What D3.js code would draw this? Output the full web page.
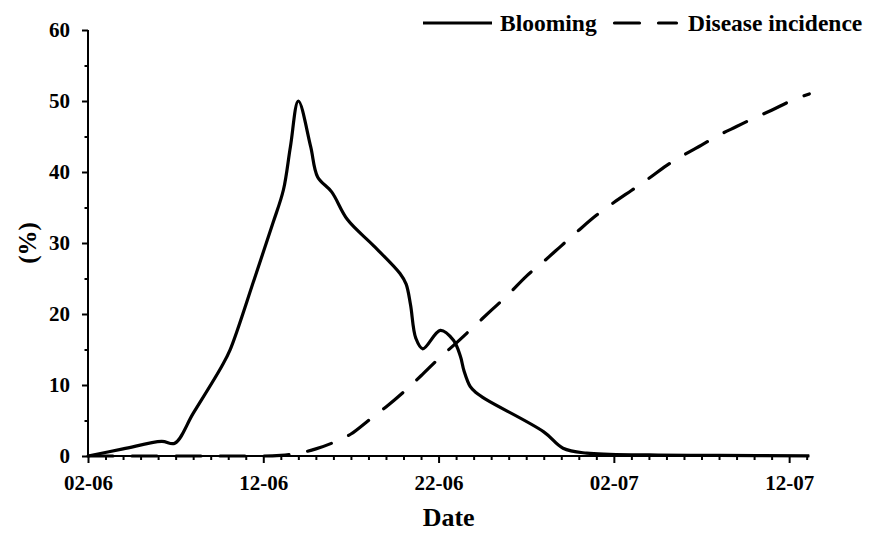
<!DOCTYPE html>
<html>
<head>
<meta charset="utf-8">
<script src="https://cdn.jsdelivr.net/npm/d3@7"></script>
<style>
  html, body { margin: 0; padding: 0; background: #fff; }
  svg text { font-family: "Liberation Serif", "Times New Roman", serif; font-weight: bold; fill: #000; }
</style>
</head>
<body>
<svg id="chart" width="875" height="535"></svg>
<script>
// Day offsets counted from 02-06
const bloomDays = [0, 2, 4.2, 4.95, 6, 7.6, 8.1, 9.5, 10.55, 11.15, 11.55, 12.0, 12.7, 13.1, 13.9, 14.8, 16.3, 17.8, 18.15, 18.4, 18.7, 19.1, 20.1, 20.85, 21.25, 21.45, 21.8, 22.15, 22.75, 26.0, 27.1, 28.45, 32, 36, 41.15];
const bloomValues = [0, 1.0, 2.05, 1.8, 6.0, 12.5, 14.9, 25.0, 32.8, 37.5, 43.6, 50.0, 43.6, 39.3, 37.2, 33.3, 29.6, 25.7, 24.2, 21.3, 16.6, 15.1, 17.7, 16.3, 14.0, 12.0, 9.8, 8.9, 7.9, 3.4, 1.1, 0.4, 0.15, 0.08, 0.03];

const diseaseDays = [0, 5, 10, 11, 12, 13, 14, 15, 16, 17, 18, 19, 20, 21, 22, 23, 24, 25, 26, 27, 28, 29, 30, 31, 32, 33, 34, 35, 36, 37, 38, 39, 40, 41.15];
const diseaseValues = [0, 0, 0, 0.1, 0.4, 1.0, 1.9, 3.1, 5.0, 6.9, 9.0, 11.3, 13.7, 15.9, 18.2, 20.5, 22.8, 25.3, 27.4, 29.6, 31.8, 33.9, 35.7, 37.4, 39.1, 40.9, 42.4, 43.8, 45.2, 46.4, 47.6, 48.7, 49.9, 51.0];

const xTickDays = [0, 10, 20, 30, 40];
const xTickLabels = ["02-06", "12-06", "22-06", "02-07", "12-07"];
const yMajorTicks = [0, 10, 20, 30, 40, 50, 60];

const seriesNames = ["Blooming", "Disease incidence"];

const svg = d3.select("#chart");

const x = d3.scaleLinear().domain([0, 41.15]).range([88, 809.3]);
const y = d3.scaleLinear().domain([0, 60]).range([456, 30]);

// Y axis: labelled majors every 10, short minors in between
const yAxis = svg.append("g")
  .attr("transform", `translate(${x(0)},0)`)
  .call(d3.axisLeft(y)
    .tickValues(d3.range(0, 61, 5))
    .tickSize(6)
    .tickPadding(12)
    .tickFormat(d => yMajorTicks.includes(d) ? d : ""));
yAxis.select(".domain").attr("stroke", "#000").attr("stroke-width", 2).attr("d", `M0,${y(0)}V${y(60)}`);
yAxis.selectAll(".tick line").attr("stroke", "#000").attr("stroke-width", 2)
  .attr("x2", d => yMajorTicks.includes(d) ? -6 : -3.5);
yAxis.selectAll(".tick text").style("font-size", "21px");

// X axis: a tick every day, longer ticks and labels every 10 days
const xAxis = svg.append("g")
  .attr("transform", `translate(0,${y(0)})`)
  .call(d3.axisBottom(x)
    .tickValues(d3.range(0, 42, 1))
    .tickSize(7)
    .tickFormat(d => {
      const i = xTickDays.indexOf(d);
      return i >= 0 ? xTickLabels[i] : "";
    }));
xAxis.select(".domain").attr("stroke", "#000").attr("stroke-width", 2).attr("d", `M${x(0)},0H${x(41.15)}`);
xAxis.selectAll(".tick line").attr("stroke", "#000").attr("stroke-width", 2)
  .attr("y2", d => xTickDays.includes(d) ? 7 : 4);
xAxis.selectAll(".tick text").style("font-size", "21px").attr("y", 34).attr("dy", 0);

// Axis titles
svg.append("text")
  .attr("x", (x(0) + x(41.15)) / 2)
  .attr("y", 526)
  .attr("text-anchor", "middle")
  .style("font-size", "26px")
  .text("Date");

svg.append("text")
  .attr("transform", `translate(27,${(y(0) + y(60)) / 2}) rotate(-90)`)
  .attr("text-anchor", "middle")
  .attr("dominant-baseline", "central")
  .style("font-size", "25px")
  .text("(%)");

// Series lines
const bloomLine = d3.line()
  .x(d => x(d[0]))
  .y(d => y(d[1]))
  .curve(d3.curveCatmullRom.alpha(0.5));

const diseaseLine = d3.line()
  .x(d => x(d[0]))
  .y(d => y(d[1]))
  .curve(d3.curveMonotoneX);

const bloom = bloomDays.map((d, i) => [d, bloomValues[i]]);
const disease = diseaseDays.map((d, i) => [d, diseaseValues[i]]);

svg.append("path")
  .datum(bloom)
  .attr("fill", "none")
  .attr("stroke", "#000")
  .attr("stroke-width", 3.2)
  .attr("stroke-linejoin", "round")
  .attr("d", bloomLine);

svg.append("path")
  .datum(disease)
  .attr("fill", "none")
  .attr("stroke", "#000")
  .attr("stroke-width", 3.2)
  .attr("stroke-linecap", "round")
  .attr("stroke-dasharray", "25 19")
  .attr("d", diseaseLine);

// Legend
const legend = svg.append("g");
legend.append("line")
  .attr("x1", 423).attr("x2", 492).attr("y1", 23).attr("y2", 23)
  .attr("stroke", "#000").attr("stroke-width", 3.2);
legend.append("text")
  .attr("x", 500).attr("y", 31)
  .style("font-size", "23.5px")
  .text(seriesNames[0]);
legend.append("line")
  .attr("x1", 614.5).attr("x2", 676.5).attr("y1", 23).attr("y2", 23)
  .attr("stroke", "#000").attr("stroke-width", 3.2)
  .attr("stroke-linecap", "round")
  .attr("stroke-dasharray", "25 19");
legend.append("text")
  .attr("x", 688).attr("y", 31)
  .style("font-size", "23.5px")
  .text(seriesNames[1]);
</script>
</body>
</html>
